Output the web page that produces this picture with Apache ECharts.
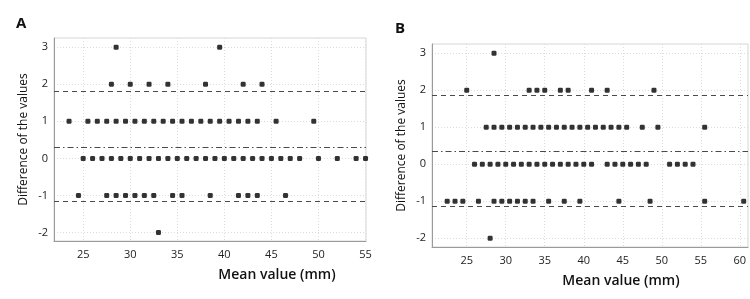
<!DOCTYPE html>
<html>
<head>
<meta charset="utf-8">
<script src="https://cdn.jsdelivr.net/npm/echarts@6/dist/echarts.min.js"></script>
<style>
  html, body { margin: 0; padding: 0; background: #fff; }
  #chart { width: 750px; height: 299px; }
</style>
</head>
<body>
<div id="chart"></div>
<script>
// panel A: mean values (mm) grouped by difference
const aPlus3 = [28.5, 39.5];
const aPlus2 = [28, 30, 32, 34, 38, 42, 44];
const aPlus1 = [23.5, 25.5, 26.5, 27.5, 28.5, 29.5, 30.5, 31.5, 32.5, 33.5, 34.5, 35.5, 36.5, 37.5, 38.5, 39.5, 40.5, 41.5, 42.5, 43.5, 45.5, 49.5];
const aZero = [25, 26, 27, 28, 29, 30, 31, 32, 33, 34, 35, 36, 37, 38, 39, 40, 41, 42, 43, 44, 45, 46, 47, 48, 50, 52, 54, 55];
const aMinus1 = [24.5, 27.5, 28.5, 29.5, 30.5, 31.5, 32.5, 34.5, 35.5, 38.5, 41.5, 42.5, 43.5, 46.5];
const aMinus2 = [33];
const aLimits = [1.80, 0.31, -1.17]; // upper LoA, mean, lower LoA

// panel B
const bPlus3 = [28.5];
const bPlus2 = [25, 33, 34, 35, 37, 38, 41, 43, 49];
const bPlus1 = [27.5, 28.5, 29.5, 30.5, 31.5, 32.5, 33.5, 34.5, 35.5, 36.5, 37.5, 38.5, 39.5, 40.5, 41.5, 42.5, 43.5, 44.5, 45.5, 47.5, 49.5, 55.5];
const bZero = [26, 27, 28, 29, 30, 31, 32, 33, 34, 35, 36, 37, 38, 39, 40, 41, 43, 44, 45, 46, 47, 48, 51, 52, 53, 54];
const bMinus1 = [22.5, 23.5, 24.5, 26.5, 28.5, 29.5, 30.5, 31.5, 32.5, 33.5, 35.5, 37.5, 39.5, 44.5, 48.5, 55.5, 60.5];
const bMinus2 = [28];
const bLimits = [1.86, 0.36, -1.14];

const xTicksA = [25, 30, 35, 40, 45, 50, 55];
const xTicksB = [25, 30, 35, 40, 45, 50, 55, 60];
const yTicks = [-2, -1, 0, 1, 2, 3];

function toPoints(rows) {
  var pts = [];
  rows.forEach(function (r) {
    r.means.forEach(function (m) { pts.push([m, r.diff]); });
  });
  return pts;
}

var ptsA = toPoints([
  { diff: 3, means: aPlus3 }, { diff: 2, means: aPlus2 }, { diff: 1, means: aPlus1 },
  { diff: 0, means: aZero }, { diff: -1, means: aMinus1 }, { diff: -2, means: aMinus2 }
]);
var ptsB = toPoints([
  { diff: 3, means: bPlus3 }, { diff: 2, means: bPlus2 }, { diff: 1, means: bPlus1 },
  { diff: 0, means: bZero }, { diff: -1, means: bMinus1 }, { diff: -2, means: bMinus2 }
]);

var font = 'Open Sans';

function xAxisFor(idx, min, max, ticks, shift) {
  return {
    gridIndex: idx,
    type: 'value',
    min: min,
    max: max,
    name: 'Mean value (mm)',
    nameLocation: 'middle',
    nameGap: 27,
    nameTextStyle: { fontFamily: font, fontSize: 14, color: '#111', fontWeight: 600, padding: [0, 0, 0, shift] },
    axisLine: { show: true, onZero: false, lineStyle: { color: '#9a9a9a', width: 1 } },
    axisTick: { show: false, customValues: ticks },
    axisLabel: { customValues: ticks, fontFamily: font, fontSize: 11, color: '#222', margin: 8 },
    splitLine: { show: true, lineStyle: { color: '#dcdcdc', type: [1, 2] } }
  };
}

function yAxisFor(idx, min, max, gap) {
  return {
    gridIndex: idx,
    type: 'value',
    min: min,
    max: max,
    name: 'Difference of the values',
    nameLocation: 'middle',
    nameGap: gap,
    nameTextStyle: { fontFamily: font, fontSize: 12, color: '#111', fontWeight: 500 },
    axisLine: { show: true, lineStyle: { color: '#9a9a9a', width: 1 } },
    axisTick: { show: false, customValues: yTicks },
    axisLabel: { customValues: yTicks, fontFamily: font, fontSize: 11, color: '#222', margin: 6 },
    splitLine: { show: true, lineStyle: { color: '#dcdcdc', type: [1, 2] } }
  };
}

function limitLines(lim) {
  return {
    silent: true,
    symbol: 'none',
    label: { show: false },
    data: [
      { yAxis: lim[0], lineStyle: { color: '#4a4a4a', width: 1.2, type: [5, 4] } },
      { yAxis: lim[1], lineStyle: { color: '#4a4a4a', width: 1, type: [6, 3, 1.5, 3] } },
      { yAxis: lim[2], lineStyle: { color: '#4a4a4a', width: 1.2, type: [5, 4] } }
    ]
  };
}

var myChart = echarts.init(document.getElementById('chart'));
var option = {
  animation: false,
  backgroundColor: '#fff',
  title: [
    { text: 'A', left: 11, top: 11, textStyle: { fontFamily: font, fontSize: 15, fontWeight: 'bold', color: '#111' } },
    { text: 'B', left: 390, top: 16, textStyle: { fontFamily: font, fontSize: 15, fontWeight: 'bold', color: '#111' } }
  ],
  grid: [
    { left: 54, top: 38, right: 384, bottom: 58, show: true, borderColor: '#d6d6d6', borderWidth: 1 },
    { left: 432, top: 44, right: 2, bottom: 52, show: true, borderColor: '#d6d6d6', borderWidth: 1 }
  ],
  xAxis: [
    xAxisFor(0, 21.9, 55.05, xTicksA, 134),
    xAxisFor(1, 20.55, 61.05, xTicksB, 62)
  ],
  yAxis: [
    yAxisFor(0, -2.23, 3.25, 24),
    yAxisFor(1, -2.24, 3.25, 24)
  ],
  series: [
    {
      type: 'scatter',
      xAxisIndex: 0,
      yAxisIndex: 0,
      symbol: 'roundRect',
      symbolSize: 5,
      itemStyle: { color: '#000' },
      data: ptsA,
      markLine: limitLines(aLimits)
    },
    {
      type: 'scatter',
      xAxisIndex: 1,
      yAxisIndex: 1,
      symbol: 'roundRect',
      symbolSize: 5,
      itemStyle: { color: '#000' },
      data: ptsB,
      markLine: limitLines(bLimits)
    }
  ]
};
myChart.setOption(option);
window.addEventListener('resize', function () {
  myChart.resize();
});
</script>
</body>
</html>
